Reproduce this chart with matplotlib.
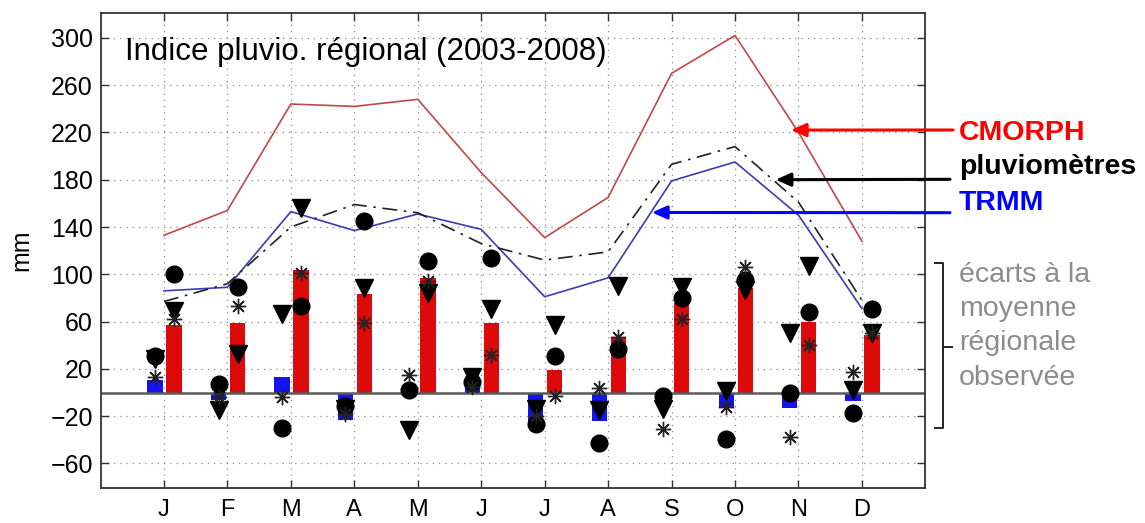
import numpy as np
import matplotlib
matplotlib.use("Agg")
import matplotlib.pyplot as plt
from matplotlib.lines import Line2D

plt.rcParams['font.family'] = ['Liberation Sans', 'DejaVu Sans']

# Monthly regional rainfall index (mm), 2003-2008
mois = ['J', 'F', 'M', 'A', 'M', 'J', 'J', 'A', 'S', 'O', 'N', 'D']
cmorph = [133, 154, 244, 242, 248, 186, 131, 165, 270, 302, 220, 128]
trmm = [86, 89, 153, 137, 151, 138, 81, 97, 179, 195, 150, 71]
pluvio = [77, 92, 140, 159, 152, 126, 112, 119, 193, 208, 161, 78]

# deviations from the observed regional mean
ecart_trmm = [11, -6, 13, -23, 0, 6, -24, -24, -4, -13, -13, -7]
ecart_cmorph = [57, 59, 104, 83, 97, 59, 19, 46, 76, 88, 60, 49]

# individual years, TRMM side (left) and CMORPH side (right)
trmm_rond = [31, 7, -30, -11, 2, 9, -27, -43, -3, -39, 0, -17]
trmm_tri = [28, -15, 66, -14, -32, 13, -14, -15, -14, 1, 50, 2]
trmm_etoile = [13, -4, -4, -18, 15, 5, -20, 4, -31, -12, -38, 17]
cmorph_rond = [100, 89, 73, 145, 111, 114, 31, 37, 80, 95, 68, 71]
cmorph_tri = [69, 33, 156, 88, 84, 71, 57, 90, 89, 87, 107, 50]
cmorph_etoile = [62, 73, 101, 59, 94, 32, -3, 47, 62, 106, 40, 50]

yticks = [-60, -20, 20, 60, 100, 140, 180, 220, 260, 300]
ytick_labels = ['\u221260', '\u221220', '20', '60', '100', '140', '180', '220', '260', '300']

W, H = 1145, 523


def fx(px):
    return px / W


def fy(py):
    return 1 - py / H


fig = plt.figure(figsize=(W / 100, H / 100), dpi=100)
ax = fig.add_axes([fx(100.5), fy(488.3), (925.4 - 100.5) / W, (488.3 - 13) / H])

x = np.arange(1, 13)
dl, dr = -0.14, 0.16
bw = 0.24

ax.bar(x + dl, ecart_trmm, width=bw, color='#1414f0', zorder=2)
ax.bar(x + dr, ecart_cmorph, width=bw, color='#dd0a0a', zorder=2)
ax.axhline(0, color='#5a5a5a', lw=1.8, zorder=2.5)

ax.plot(x, cmorph, color='#c04848', lw=1.2, zorder=3)
ax.plot(x, trmm, color='#3c3cb0', lw=1.2, zorder=3)
ax.plot(x, pluvio, color='#222222', lw=1.2, linestyle=(0, (9, 4, 1.5, 4)), zorder=3)

for off, tri, rond, etoile in [(dl, trmm_tri, trmm_rond, trmm_etoile),
                               (dr, cmorph_tri, cmorph_rond, cmorph_etoile)]:
    ax.plot(x + off, tri, 'v', color='k', ms=13, ls='none', zorder=4)
    ax.plot(x + off, rond, 'o', color='k', ms=12, ls='none', zorder=4)
    ax.plot(x + off, etoile, marker=(8, 2, 0), color='k', mec='#222222', ms=11,
            mew=1.0, ls='none', zorder=5)

ax.set_xlim(0, 13)
ax.set_ylim(-81, 321)
ax.set_xticks(x)
ax.set_xticklabels(mois)
ax.set_yticks(yticks)
ax.set_yticklabels(ytick_labels)
ax.tick_params(direction='in', length=6, width=1, top=True, right=True,
               labelsize=18, color='#333333')
ax.tick_params(axis='x', pad=8, labelsize=17)
ax.tick_params(axis='y', pad=5.5)
ax.grid(True, color='#8a8a8a', linestyle=(0, (1, 4)), lw=0.9, zorder=0)
ax.set_axisbelow(True)
for s in ax.spines.values():
    s.set_linewidth(1.3)
    s.set_color('#333333')

ax.set_ylabel('mm', fontsize=18)
ax.yaxis.set_label_coords(-0.082, 0.5)

ax.text(0.39, 281, 'Indice pluvio. régional (2003-2008)', fontsize=22.5, va='baseline')

# labels for the three curves, with arrows pointing at them
arrows = [
    ('CMORPH', '#ff0000', 140, 130, 953, (10.88, 222)),
    ('pluviomètres', '#000000', 174, 179.3, 950, (10.64, 180)),
    ('TRMM', '#0000ff', 210, 212.7, 950, (8.69, 152.3)),
]
for label, col, base, ya, xa, tip in arrows:
    fig.text(fx(959), fy(base), label, color=col, fontsize=20.5, fontweight='bold',
             va='baseline', ha='left')
    ax.annotate('', xy=tip, xycoords='data', xytext=(fx(xa), fy(ya)),
                textcoords='figure fraction', annotation_clip=False,
                arrowprops=dict(arrowstyle='-|>,head_length=0.9,head_width=0.4',
                                color=col, lw=2.2, shrinkA=0, shrinkB=0))

for txt, base in [('écarts à la', 282), ('moyenne', 316), ('régionale', 350), ('observée', 385)]:
    fig.text(fx(959), fy(base), txt, color='#8c8c8c', fontsize=20.5, va='baseline', ha='left')

# bracket around the deviation range
bx = 943
for xs, ys in [([935, bx, bx, 935], [263, 263, 428, 428]), ([bx, 952], [347, 347])]:
    fig.add_artist(Line2D([fx(v) for v in xs], [fy(v) for v in ys],
                          color='#222222', lw=1.4, transform=fig.transFigure))

fig.savefig('out.png', dpi=100)
